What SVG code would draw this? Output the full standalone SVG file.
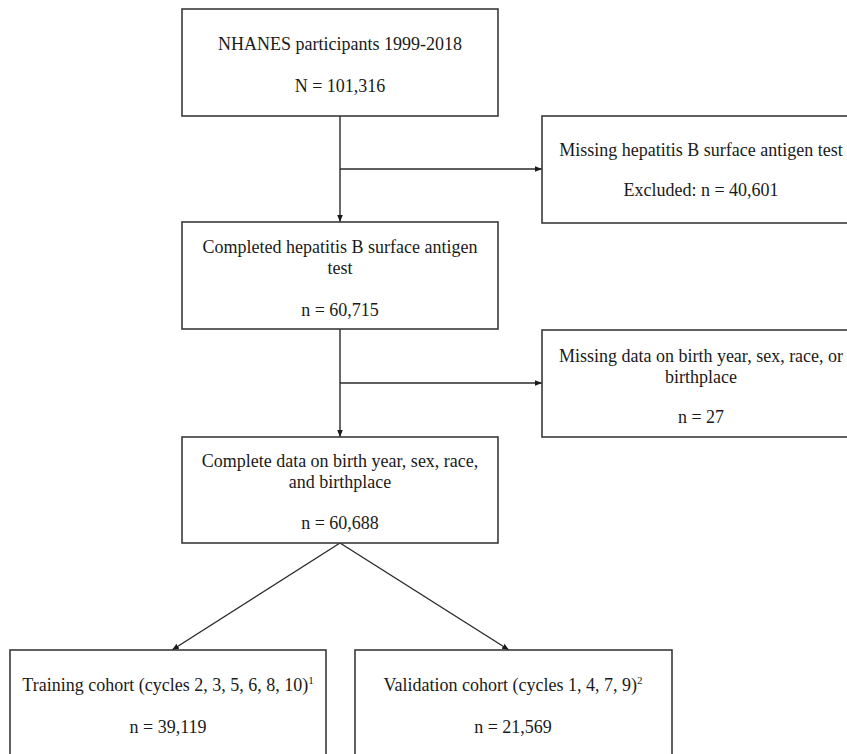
<svg xmlns="http://www.w3.org/2000/svg" width="847" height="754" viewBox="0 0 847 754">
<style>
.box{fill:#ffffff;stroke:#3a3a3a;stroke-width:1.6}
.t{font-family:"Liberation Serif","Times New Roman",serif;font-size:18px;fill:#1a1a1a;text-anchor:middle}
.sup{font-size:11px}
.edge{fill:none;stroke:#2a2a2a;stroke-width:1.4;marker-end:url(#arr)}
</style>
<defs>
<marker id="arr" viewBox="0 0 10 10" refX="10" refY="5" markerWidth="7" markerHeight="7" markerUnits="userSpaceOnUse" orient="auto">
<path d="M0,1 L10,5 L0,9 z" fill="#1a1a1a"/>
</marker>
</defs>
<rect width="847" height="754" fill="#ffffff"/>
<g id="connectors">
<line class="edge" x1="340" y1="116" x2="340" y2="222"/>
<line class="edge" x1="340" y1="169" x2="542" y2="169"/>
<line class="edge" x1="340" y1="329" x2="340" y2="437"/>
<line class="edge" x1="340" y1="383" x2="542" y2="383"/>
<line class="edge" x1="340" y1="543" x2="172" y2="650"/>
<line class="edge" x1="340" y1="543" x2="509" y2="650"/>
</g>
<g id="n1">
<rect class="box" x="182" y="9" width="316" height="107"/>
<text class="t" x="340" y="50">NHANES participants 1999-2018</text>
<text class="t" x="340" y="92">N = 101,316</text>
</g>
<g id="n2">
<rect class="box" x="542" y="116" width="318" height="107"/>
<text class="t" x="701" y="156">Missing hepatitis B surface antigen test</text>
<text class="t" x="701" y="196">Excluded: n = 40,601</text>
</g>
<g id="n3">
<rect class="box" x="182" y="222" width="316" height="107"/>
<text class="t" x="340" y="253">Completed hepatitis B surface antigen</text>
<text class="t" x="340" y="274">test</text>
<text class="t" x="340" y="316">n = 60,715</text>
</g>
<g id="n4">
<rect class="box" x="542" y="330" width="318" height="107"/>
<text class="t" x="701" y="362">Missing data on birth year, sex, race, or</text>
<text class="t" x="701" y="383">birthplace</text>
<text class="t" x="701" y="423">n = 27</text>
</g>
<g id="n5">
<rect class="box" x="182" y="437" width="316" height="106"/>
<text class="t" x="340" y="467">Complete data on birth year, sex, race,</text>
<text class="t" x="340" y="488">and birthplace</text>
<text class="t" x="340" y="529">n = 60,688</text>
</g>
<g id="n6">
<rect class="box" x="10" y="650" width="316" height="112"/>
<text class="t" x="168" y="691">Training cohort (cycles 2, 3, 5, 6, 8, 10)<tspan class="sup" dy="-7">1</tspan></text>
<text class="t" x="168" y="733">n = 39,119</text>
</g>
<g id="n7">
<rect class="box" x="355" y="650" width="317" height="112"/>
<text class="t" x="513" y="691">Validation cohort (cycles 1, 4, 7, 9)<tspan class="sup" dy="-7">2</tspan></text>
<text class="t" x="513" y="733">n = 21,569</text>
</g>
</svg>
